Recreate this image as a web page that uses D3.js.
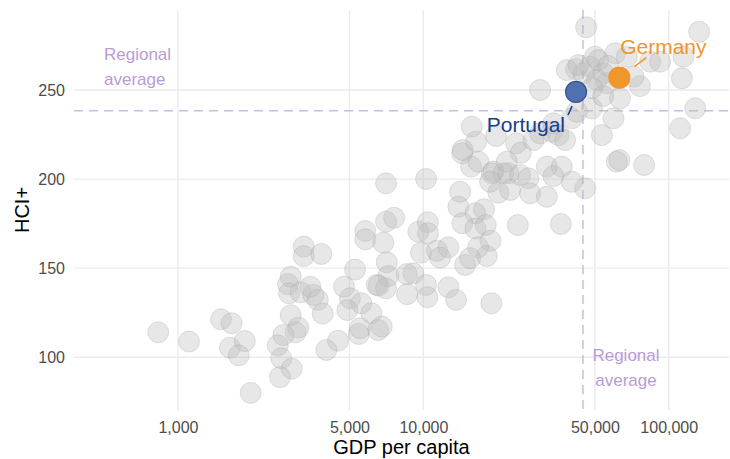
<!DOCTYPE html>
<html>
<head>
<meta charset="utf-8">
<script src="https://cdn.jsdelivr.net/npm/d3@7"></script>
<style>
  body { margin: 0; background: #fff; }
  text { font-family: "Liberation Sans", Arial, sans-serif; }
</style>
</head>
<body>
<div id="chart"></div>
<script>
// GDP per capita and HCI+ for every country
const gdp = [
  831, 1109, 1497, 1655, 1629, 1871, 1769, 1979, 2880, 3093, 3018, 2688, 2550, 2637, 2908, 2605,
  3254, 3254, 3839, 2880, 2808, 2835, 3163, 3462, 3562, 3712, 3890, 4023, 4490, 5268, 4750, 5024,
  4899, 5588, 6138, 5454, 6457, 6536, 7046, 10257, 14113, 13890, 16293, 17680, 14420, 16293, 17963,
  18760, 16710, 18135, 14790, 15500, 14380, 15650, 16760, 19010, 20220, 21190, 7597, 7046, 5801,
  5801, 6868, 9541, 10420, 10450, 9786, 11370, 12650, 11700, 7092, 7200, 8559, 9105, 6579, 7046,
  8584, 10257, 10383, 12650, 13590, 18930, 5520, 6767, 15750, 16400, 14470, 19790, 23880, 24950,
  28090, 29910, 33380, 35510, 37830, 33880, 40270, 42210, 48600, 53390, 61430, 59510, 21880, 19290,
  22210, 24790, 26800, 31850, 36660, 33880, 40270, 45630, 18710, 22570, 27230, 31850, 24260, 36320,
  46060, 133000, 50080, 60470, 67480, 84000, 92240, 41930, 44920, 47830, 54190, 50930, 55950, 76360,
  63310, 113100, 114800, 128200, 111300, 62960, 79370, 29910, 71800, 38430, 42850, 48730, 54070,
  51550, 56630
];
const hci = [
  114, 108.8, 121.3, 119.1, 105.4, 109.1, 101.1, 80, 123.6, 116.6, 114, 112.5, 106.7, 99.4, 93.6, 88.9,
  162.1, 156.8, 158, 145.2, 141, 135.9, 136.5, 139.6, 135, 132.2, 124.5, 104.1, 109.3, 149.2, 139.6, 133.1,
  126.5, 130.3, 124.7, 113.1, 140.6, 115.3, 197.6, 200.1, 192.9, 184.5, 180.8, 183.1, 175.2, 172.2, 174.2,
  165.4, 161.7, 156.8, 151.8, 155.6, 214.5, 207, 209.8, 203.3, 192.4, 203.3, 178.3, 176.1, 170.9,
  166.2, 164.3, 170.5, 175.8, 169.6, 158.7, 159.8, 161.7, 155.9, 153.3, 145.6, 146.7, 147.1, 140.2, 138.7,
  135.4, 140.6, 133.7, 139.3, 132.2, 130.3, 116.3, 117.2, 229.4, 221, 216.3, 224.2, 220.1, 214.8,
  221.9, 225.7, 226.6, 224.7, 221.9, 231.3, 234.1, 237.8, 239.7, 224.7, 209.8, 234.1, 209.8, 204.2,
  203.3, 202.3, 200.4, 207, 207, 201.7, 198.5, 194.8, 198.5, 193.9, 192, 190.1, 174.2, 174.8,
  285.2, 282.7, 268.7, 270.6, 268.7, 265.9, 265.9, 261.6, 259.4, 263.1, 259.4, 255.6, 253.8, 252.2,
  245.3, 256.6, 268.7, 239.7, 228.5, 210.7, 207.9, 250, 257.5, 261.2, 264, 251.1, 246.6,
  266.8, 263.5
];

const highlightNames = ["Portugal", "Germany"];
const highlightGdp = [41900, 62900];
const highlightHci = [248.9, 256.9];
const highlightColors = ["#5070b0", "#f0962a"];
const highlightText = ["#163f8e", "#f0962a"];

const avgGdp = 44700;
const avgHci = 238.4;

const xTicks = [1000, 5000, 10000, 50000, 100000];
const yTicks = [100, 150, 200, 250];

const width = 730;
const height = 459;
const marginTop = 10;
const marginRight = 1;
const marginBottom = 49;
const marginLeft = 74;
const r = 10.5;

const x = d3.scaleLog()
  .domain([377, 176000])
  .range([marginLeft, width - marginRight]);

const y = d3.scaleLinear()
  .domain([70.4, 294.9])
  .range([height - marginBottom, marginTop]);

const svg = d3.select("#chart")
  .append("svg")
  .attr("width", width)
  .attr("height", height);

// grid
svg.append("g")
  .selectAll("line")
  .data(xTicks)
  .join("line")
  .attr("x1", d => x(d)).attr("x2", d => x(d))
  .attr("y1", marginTop).attr("y2", height - marginBottom)
  .attr("stroke", "#ebebeb").attr("stroke-width", 1.4);

svg.append("g")
  .selectAll("line")
  .data(yTicks)
  .join("line")
  .attr("y1", d => y(d)).attr("y2", d => y(d))
  .attr("x1", marginLeft).attr("x2", width - marginRight)
  .attr("stroke", "#ebebeb").attr("stroke-width", 1.4);

// axes (labels only)
const xAxis = svg.append("g")
  .attr("transform", `translate(0,${height - marginBottom})`)
  .call(d3.axisBottom(x).tickValues(xTicks).tickFormat(d3.format(",")).tickSize(0).tickPadding(12));
const yAxis = svg.append("g")
  .attr("transform", `translate(${marginLeft},0)`)
  .call(d3.axisLeft(y).tickValues(yTicks).tickSize(0).tickPadding(9));
[xAxis, yAxis].forEach(g => {
  g.select(".domain").remove();
  g.selectAll("text")
    .attr("fill", "#4d4d4d")
    .style("font-size", "16px")
    .style("font-family", '"Liberation Sans", Arial, sans-serif');
});

svg.append("text")
  .attr("x", (marginLeft + width - marginRight) / 2)
  .attr("y", 454)
  .attr("text-anchor", "middle")
  .style("font-size", "20px")
  .text("GDP per capita");

svg.append("text")
  .attr("transform", "translate(29,210) rotate(-90)")
  .attr("text-anchor", "middle")
  .style("font-size", "20px")
  .text("HCI+");

// regional average lines
svg.append("line")
  .attr("x1", x(avgGdp)).attr("x2", x(avgGdp))
  .attr("y1", marginTop).attr("y2", height - marginBottom)
  .attr("stroke", "#cdb9e3").attr("stroke-width", 1.5)
  .attr("stroke-dasharray", "9,6");
svg.append("line")
  .attr("x1", marginLeft).attr("x2", width - marginRight)
  .attr("y1", y(avgHci)).attr("y2", y(avgHci))
  .attr("stroke", "#cdb9e3").attr("stroke-width", 1.5)
  .attr("stroke-dasharray", "9,6");

const avgLabel = (px, py, anchor) => {
  const t = svg.append("text")
    .attr("x", px).attr("y", py)
    .attr("text-anchor", anchor)
    .attr("fill", "#b99bd7")
    .style("font-size", "17px");
  t.append("tspan").attr("x", px).text("Regional");
  t.append("tspan").attr("x", px).attr("dy", 25).text("average");
};
avgLabel(104, 60, "start");
avgLabel(626, 361, "middle");

// all countries
svg.append("g")
  .selectAll("circle")
  .data(gdp)
  .join("circle")
  .attr("cx", d => x(d))
  .attr("cy", (d, i) => y(hci[i]))
  .attr("r", r)
  .attr("fill", "#bdbdbd")
  .attr("fill-opacity", 0.36)
  .attr("stroke", "#a8a8a8")
  .attr("stroke-opacity", 0.35)
  .attr("stroke-width", 1);

// highlighted countries
svg.append("g")
  .selectAll("circle")
  .data(highlightGdp)
  .join("circle")
  .attr("cx", d => x(d))
  .attr("cy", (d, i) => y(highlightHci[i]))
  .attr("r", r)
  .attr("fill", (d, i) => highlightColors[i])
  .attr("stroke", (d, i) => i === 0 ? "#34559a" : highlightColors[i])
  .attr("stroke-width", 1.2);

// labels with leader lines
const px = x(highlightGdp[0]), py = y(highlightHci[0]);
svg.append("line")
  .attr("x1", px - 8).attr("y1", py + 23)
  .attr("x2", px - 4).attr("y2", py + 14)
  .attr("stroke", highlightText[0]).attr("stroke-width", 1.6);
svg.append("text")
  .attr("x", px - 11).attr("y", py + 40)
  .attr("text-anchor", "end")
  .attr("fill", highlightText[0])
  .style("font-size", "21px")
  .text(highlightNames[0]);

const gx = x(highlightGdp[1]), gy = y(highlightHci[1]);
svg.append("line")
  .attr("x1", gx + 15).attr("y1", gy - 11)
  .attr("x2", gx + 27).attr("y2", gy - 20)
  .attr("stroke", highlightText[1]).attr("stroke-width", 1.6);
svg.append("text")
  .attr("x", gx + 44).attr("y", gy - 24)
  .attr("text-anchor", "middle")
  .attr("fill", highlightText[1])
  .style("font-size", "21px")
  .text(highlightNames[1]);
</script>
</body>
</html>
